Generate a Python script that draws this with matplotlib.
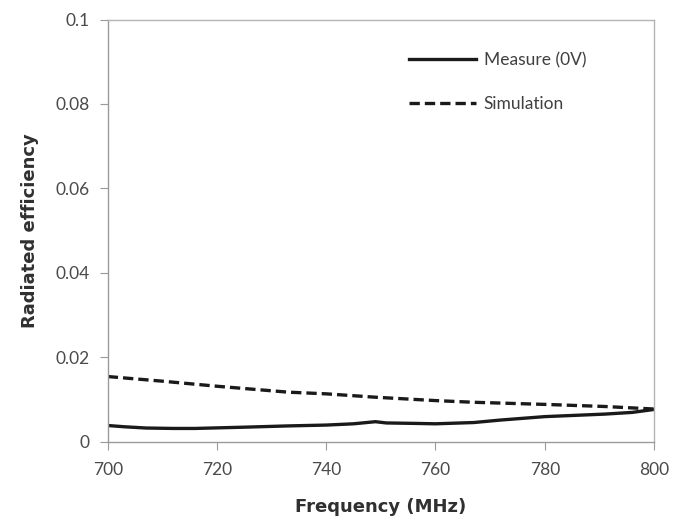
import numpy as np
import matplotlib.pyplot as plt

# Measured radiated efficiency (0V bias)
meas_freq = [700, 703, 707, 712, 716, 725, 733, 740, 745, 749, 751, 756, 760, 767, 772, 780, 791, 796, 800]
meas_eff = [0.0038, 0.0035, 0.0032, 0.0031, 0.0031, 0.0034, 0.0037, 0.0039, 0.0042, 0.0047, 0.0044,
            0.0043, 0.0042, 0.0045, 0.0051, 0.0059, 0.0065, 0.0069, 0.0076]

# Simulated radiated efficiency
sim_freq = [700, 710, 720, 733, 740, 749, 760, 767, 780, 791, 800]
sim_eff = [0.0154, 0.0143, 0.0131, 0.0117, 0.0113, 0.0105, 0.0097, 0.0093, 0.0088, 0.0083, 0.0077]

x_ticks = [700, 720, 740, 760, 780, 800]
y_ticks = [0, 0.02, 0.04, 0.06, 0.08, 0.1]
y_labels = ["0", "0.02", "0.04", "0.06", "0.08", "0.1"]

plt.rcParams['font.family'] = ['Lato', 'DejaVu Sans']

fig = plt.figure(figsize=(6.75, 5.25), dpi=100)
ax = fig.add_axes([0.1596, 0.159, 0.8093, 0.8038])

ax.plot(meas_freq, meas_eff, color='#1a1a1a', linewidth=2.4, label='Measure (0V)')
ax.plot(sim_freq, sim_eff, color='#1a1a1a', linewidth=2.4, linestyle=(0, (3.1, 1.5)),
        label='Simulation')

ax.set_xlim(700, 800)
ax.set_ylim(0, 0.1)
ax.set_xticks(x_ticks)
ax.set_yticks(y_ticks)
ax.set_yticklabels(y_labels)

# light grey plot frame
for s in ['left', 'bottom']:
    ax.spines[s].set_color('#9a9a9a')
    ax.spines[s].set_linewidth(1.0)
for s in ['top', 'right']:
    ax.spines[s].set_color('#b4b4b4')
    ax.spines[s].set_linewidth(1.0)
ax.tick_params(axis='both', direction='out', length=6, color='#9a9a9a',
               labelsize=12.5, labelcolor='#4a4a4a')
ax.tick_params(axis='x', pad=9)
ax.tick_params(axis='y', pad=7)

ax.set_xlabel("Frequency (MHz)", fontsize=13, fontweight='bold', color='#303030', labelpad=14,
              family='DejaVu Sans')
ax.set_ylabel("Radiated efficiency", fontsize=13, fontweight='bold', color='#303030', labelpad=12,
              family='DejaVu Sans')

leg = ax.legend(loc='upper left', bbox_to_anchor=(0.522, 0.96), frameon=False,
                fontsize=12.5, handlelength=3.9, handletextpad=0.42, labelspacing=1.62)
for t in leg.get_texts():
    t.set_color('#404040')

fig.savefig("out.png", dpi=100)
plt.close()
